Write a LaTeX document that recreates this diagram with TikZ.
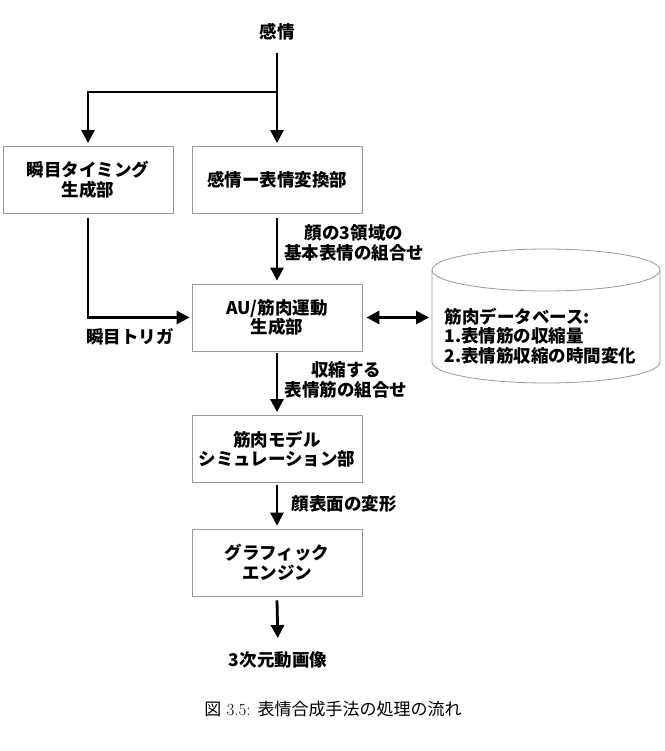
\documentclass[tikz,border=0pt]{standalone}
\usepackage{fontspec}
\newfontfamily\jp{Noto Sans CJK JP}
\usetikzlibrary{arrows.meta}
\begin{document}
\begin{tikzpicture}[x=1pt,y=-1pt,
    box/.style={draw=gray!80,line width=0.8pt,minimum width=170pt,minimum height=67pt,align=center,font=\jp\bfseries\fontsize{17.5}{19.5}\selectfont},
    lbl/.style={align=center,font=\jp\bfseries\fontsize{17.5}{19.5}\selectfont},
    flow/.style={line width=2.8pt,-{Triangle[length=13pt,width=13pt]}}]
    \useasboundingbox (0,0) rectangle (664,751);
    \node[lbl] (kanjo) at (277,32) {感情};
    \node[box] (blink) at (88,180) {瞬目タイミング\\生成部};
    \node[box] (conv) at (277,180) {感情ー表情変換部};
    \node[box] (au) at (277,317.5) {AU/筋肉運動\\生成部};
    \node[box] (sim) at (277,449) {筋肉モデル\\シミュレーション部};
    \node[box] (gfx) at (277,562.5) {グラフィック\\エンジン};
    \node[lbl] (movie) at (278,660) {3次元動画像};
    \coordinate (split) at (277,92);
    \coordinate (dbside) at (429,317.5);
    % database cylinder
    \draw[draw=gray!80,line width=0.8pt] (432,270) -- (432,362) arc[start angle=180,end angle=0,x radius=114,y radius=21] -- (660,270);
    \draw[draw=gray!80,line width=0.8pt] (546,270) ellipse[x radius=114,y radius=21];
    \node[lbl,align=left,anchor=west] (db) at (441,336) {筋肉データベース:\\1.表情筋の収縮量\\2.表情筋収縮の時間変化};
    % arrows
    \draw[flow,shorten >=3pt] (kanjo.south) ++(0,9) -- (conv.north);
    \draw[flow,shorten >=3pt] (split) -| (blink.north);
    \draw[flow,shorten >=2pt] ([yshift=-4pt]blink.south) |- (au.west);
    \draw[flow,shorten >=3pt] ([yshift=-4pt]conv.south) -- (au.north);
    \draw[line width=2.8pt,{Triangle[length=13pt,width=13pt]}-{Triangle[length=13pt,width=13pt]}] ([xshift=4pt]au.east) -- (dbside);
    \draw[flow,shorten >=3pt] ([yshift=-2pt]au.south) -- (sim.north);
    \draw[flow,shorten >=3pt] ([yshift=-2pt]sim.south) -- (gfx.north);
    \draw[flow,shorten >=10pt] ([yshift=-4pt]gfx.south) -- (movie.north);
    % labels
    \node[lbl] (trig) at (130,337) {瞬目トリガ};
    \node[lbl] (combo) at (354,243) {顔の3領域の\\基本表情の組合せ};
    \node[lbl] (shrink) at (346,380) {収縮する\\表情筋の組合せ};
    \node[lbl] (deform) at (344,504) {顔表面の変形};
    \node[font=\fontsize{17}{19}\selectfont] (cap) at (333,709) {{\jp 図} 3.5: {\jp 表情合成手法の処理の流れ}};
\end{tikzpicture}
\end{document}
